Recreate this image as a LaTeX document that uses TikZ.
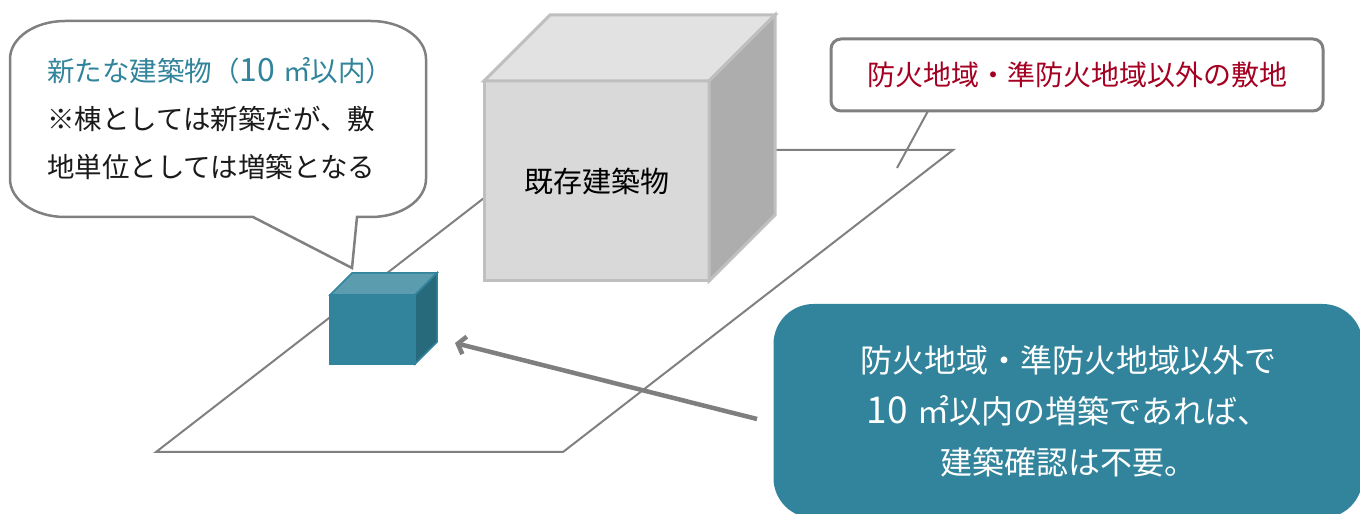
\documentclass[tikz,border=0pt]{standalone}
\usepackage{fontspec}
\setmainfont{Noto Sans CJK JP}
\usetikzlibrary{arrows.meta,calc}
\definecolor{tealmain}{HTML}{31849B}
\definecolor{tealtop}{HTML}{5B9DAF}
\definecolor{tealside}{HTML}{276A7C}
\definecolor{linegray}{HTML}{808080}
\definecolor{frontgray}{HTML}{D9D9D9}
\definecolor{topgray}{HTML}{E2E2E2}
\definecolor{sidegray}{HTML}{ADADAD}
\definecolor{edgegray}{HTML}{BFBFBF}
\definecolor{labelred}{HTML}{A50021}
\definecolor{textdark}{HTML}{1A1A1A}
\definecolor{arrowgray}{HTML}{7F7F7F}
\begin{document}
\begin{tikzpicture}[x=1pt,y=1pt,
  parcelline/.style={draw=linegray,line width=2pt,line join=miter},
  bigface/.style={draw=edgegray,line width=3pt,line join=miter},
  smallface/.style={draw=tealmain,line width=1.5pt,line join=miter},
  bubble/.style={draw=linegray,line width=2.5pt,fill=white,line join=miter},
  pointer/.style={draw=linegray,line width=2pt},
  bigarrow/.style={draw=arrowgray,line width=4.5pt,-{Straight Barb[length=7pt,width=18pt]}},
  jp/.style={font=\fontsize{#1}{#1}\selectfont}]
\useasboundingbox (0,0) rectangle (1360,514);
\clip (0,0) rectangle (1360,514);

% parcel of land
\coordinate (pBL) at (156,62);
\coordinate (pBR) at (563,62);
\coordinate (pTR) at (953,364);
\coordinate (pTL) at (546,364);
\draw[parcelline] (pBL) -- (pBR) -- (pTR) -- (pTL) -- cycle;

% existing building
\node[bigface,fill=frontgray,minimum width=225pt,minimum height=200pt,inner sep=0pt,outer sep=0pt,
      text=black,jp=29pt] (existing) at (596.5,333) {既存建築物};
\path[bigface,fill=topgray] (existing.north west) -- (existing.north east)
   -- ($(existing.north east)+(66,66)$) -- ($(existing.north west)+(66,66)$) -- cycle;
\path[bigface,fill=sidegray] (existing.north east) -- ($(existing.north east)+(66,66)$)
   -- ($(existing.south east)+(66,66)$) -- (existing.south east) -- cycle;

% new small building
\node[smallface,fill=tealmain,minimum width=85pt,minimum height=69pt,inner sep=0pt,outer sep=0pt] (newbldg) at (372.5,184.5) {};
\path[smallface,fill=tealtop] (newbldg.north west) -- (newbldg.north east)
   -- ($(newbldg.north east)+(22,22)$) -- ($(newbldg.north west)+(22,22)$) -- cycle;
\path[smallface,fill=tealside] (newbldg.north east) -- ($(newbldg.north east)+(22,22)$)
   -- ($(newbldg.south east)+(22,22)$) -- (newbldg.south east) -- cycle;

% speech bubble
\coordinate (tailtip) at (352,246);
\draw[bubble] (65,493) -- (371,493) arc[start angle=90,end angle=0,x radius=55,y radius=38]
   -- (426,335) arc[start angle=0,end angle=-90,x radius=55,y radius=38]
   -- (357,297) -- (tailtip) -- (253,297) -- (65,297)
   arc[start angle=-90,end angle=-180,x radius=55,y radius=38]
   -- (10,455) arc[start angle=180,end angle=90,x radius=55,y radius=38] -- cycle;
\node[anchor=west,align=left,inner sep=0pt,text=textdark,
      font=\fontsize{27.5pt}{48pt}\selectfont] (bubbletext) at (47,395)
  {{\color{tealmain}新たな建築物（{\fontsize{32pt}{48pt}\selectfont 10}\hspace{0.3em}㎡以内）}\\※棟としては新築だが、敷\\地単位としては増築となる};

% zone label
\node[draw=linegray,line width=3pt,rounded corners=10pt,fill=white,minimum width=492pt,
      minimum height=72pt,inner sep=0pt,outer sep=0pt,text=labelred,jp=28pt] (zone) at (1077,439)
  {防火地域・準防火地域以外の敷地};
\coordinate (zoneptr) at (897,346);
\draw[pointer] ($(zone.south west)+(97,0)$) -- (zoneptr);

% note box
\node[fill=tealmain,rounded corners=40pt,minimum width=589pt,minimum height=214pt,inner sep=0pt,
      align=center,text=white,font=\fontsize{32pt}{51pt}\selectfont] (note) at (1068,103)
  {防火地域・準防火地域以外で\\{\fontsize{37pt}{51pt}\selectfont 10}\hspace{0.3em}㎡以内の増築であれば、\\建築確認は不要。};

% arrow
\coordinate (arrtail) at (757,95);
\coordinate (arrtip) at (455,171);
\draw[bigarrow] (arrtail) -- (arrtip);
\end{tikzpicture}
\end{document}
